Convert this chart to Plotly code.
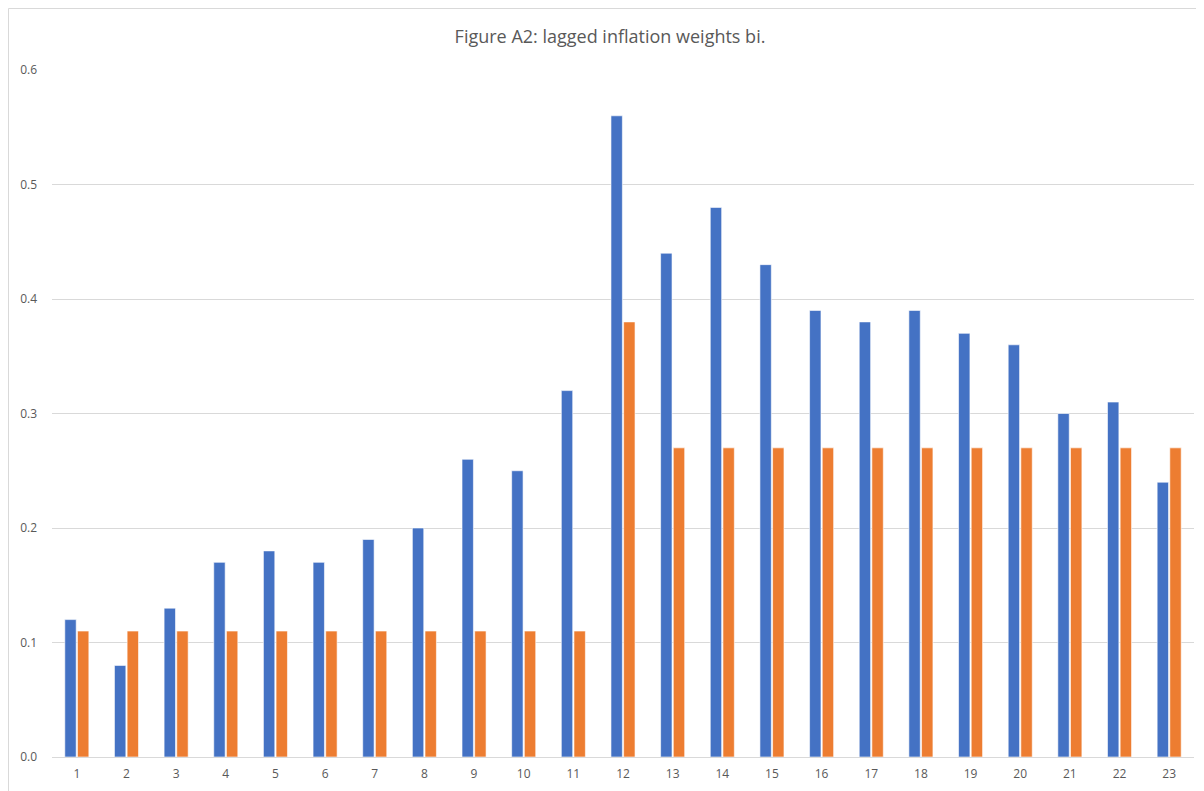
import plotly.graph_objects as go

categories = [str(i) for i in range(1, 24)]
series_a = [0.12, 0.08, 0.13, 0.17, 0.18, 0.17, 0.19, 0.20, 0.26, 0.25, 0.32,
            0.56, 0.44, 0.48, 0.43, 0.39, 0.38, 0.39, 0.37, 0.36, 0.30, 0.31, 0.24]
series_b = [0.11, 0.11, 0.11, 0.11, 0.11, 0.11, 0.11, 0.11, 0.11, 0.11, 0.11,
            0.38, 0.27, 0.27, 0.27, 0.27, 0.27, 0.27, 0.27, 0.27, 0.27, 0.27, 0.27]
y_ticks = [0.0, 0.1, 0.2, 0.3, 0.4, 0.5, 0.6]

fig = go.Figure()
fig.add_trace(go.Bar(x=categories, y=series_a, marker=dict(color="#4472C4", line=dict(color="white", width=0.6))))
fig.add_trace(go.Bar(x=categories, y=series_b, marker=dict(color="#ED7D31", line=dict(color="white", width=0.6))))

# page body has an 8px offset; compensate
OFF = 8
W, H = 1204, 791
L, R, T, B = 52 - OFF, 10 + OFF, 70 - OFF, 34 + OFF
pw, ph = W - L - R, H - T - B

fig.update_layout(
    width=W, height=H,
    margin=dict(l=L, r=R, t=T, b=B),
    paper_bgcolor="white", plot_bgcolor="white",
    barmode="group", bargap=0.49, bargroupgap=0.1,
    showlegend=False,
    font=dict(family="Open Sans, Liberation Sans, sans-serif", color="#595959", size=12),
    title=dict(text="Figure A2: lagged inflation weights bi.", x=0.5, xanchor="center",
               y=1 - (37 - OFF) / H, yanchor="middle", font=dict(size=18, color="#595959")),
    xaxis=dict(type="category", showgrid=False, showline=True, linecolor="#d9d9d9",
               linewidth=1, ticks="", tickfont=dict(size=12, color="#595959"),
               ticklabelstandoff=6, zeroline=False),
    yaxis=dict(range=[0, 0.6], tickvals=y_ticks, tickformat=".1f", showgrid=True,
               gridcolor="#d9d9d9", gridwidth=1, zeroline=False, showline=False,
               ticks="", tickfont=dict(size=12, color="#595959"), ticklabelstandoff=14),
)

fig.add_shape(type="rect", xref="paper", yref="paper",
              x0=(8.5 - OFF - L) / pw, x1=2, y0=-2, y1=(H - B - (8.5 - OFF)) / ph,
              line=dict(color="#d9d9d9", width=1), fillcolor="rgba(0,0,0,0)", layer="below")

fig.write_html("out.html")
